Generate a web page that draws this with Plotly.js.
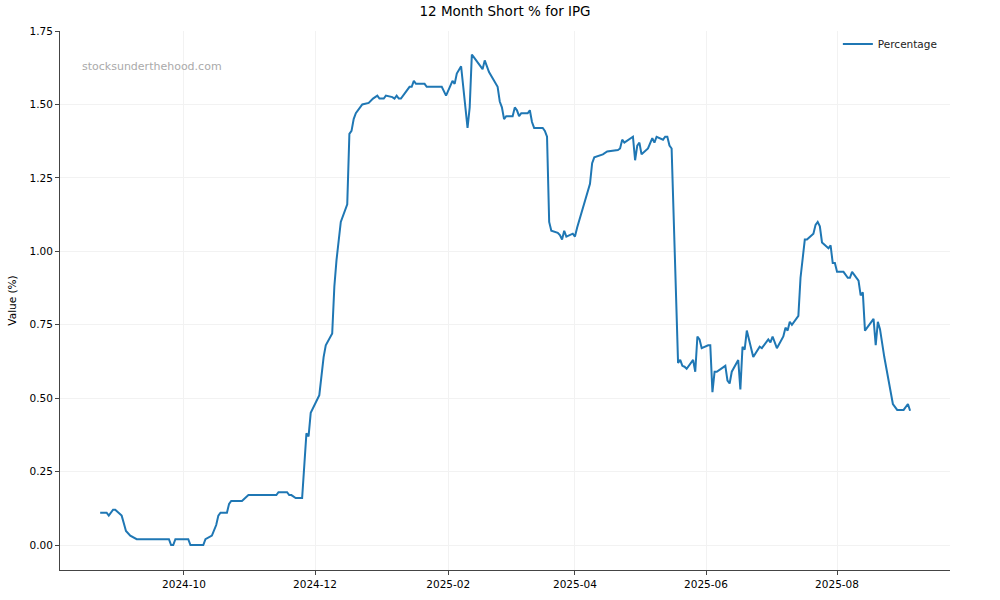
<!DOCTYPE html>
<html>
<head>
<meta charset="utf-8">
<script src="https://cdn.plot.ly/plotly-3.0.1.min.js"></script>
<style>
  html, body { margin: 0; padding: 0; background: #fff; }
  #myDiv { width: 1000px; height: 600px; }
</style>
</head>
<body>
<div id="myDiv"></div>
<script>
// short interest
const dates = [
    '2024-08-23', '2024-08-26', '2024-08-27', '2024-08-29', '2024-08-30', '2024-09-02',
    '2024-09-03', '2024-09-04', '2024-09-06', '2024-09-09', '2024-09-24', '2024-09-25',
    '2024-09-26', '2024-09-27', '2024-10-03', '2024-10-04', '2024-10-10', '2024-10-11',
    '2024-10-14', '2024-10-15', '2024-10-16', '2024-10-17', '2024-10-18', '2024-10-21',
    '2024-10-22', '2024-10-23', '2024-10-28', '2024-10-31', '2024-11-13', '2024-11-14',
    '2024-11-18', '2024-11-19', '2024-11-20', '2024-11-22', '2024-11-25', '2024-11-27',
    '2024-11-28', '2024-11-29', '2024-12-03', '2024-12-05', '2024-12-06', '2024-12-09',
    '2024-12-10', '2024-12-11', '2024-12-13', '2024-12-16', '2024-12-17', '2024-12-18',
    '2024-12-19', '2024-12-20', '2024-12-23', '2024-12-26', '2024-12-28', '2024-12-30',
    '2024-12-31', '2025-01-02', '2025-01-03', '2025-01-06', '2025-01-07', '2025-01-08',
    '2025-01-09', '2025-01-10', '2025-01-14', '2025-01-15', '2025-01-16', '2025-01-17',
    '2025-01-21', '2025-01-22', '2025-01-29', '2025-01-31', '2025-02-03', '2025-02-04',
    '2025-02-05', '2025-02-07', '2025-02-10', '2025-02-11', '2025-02-12', '2025-02-13',
    '2025-02-17', '2025-02-18', '2025-02-20', '2025-02-24', '2025-02-25', '2025-02-26',
    '2025-02-27', '2025-02-28', '2025-03-03', '2025-03-04', '2025-03-05', '2025-03-06',
    '2025-03-07', '2025-03-10', '2025-03-11', '2025-03-12', '2025-03-13', '2025-03-17',
    '2025-03-18', '2025-03-19', '2025-03-20', '2025-03-21', '2025-03-24', '2025-03-25',
    '2025-03-26', '2025-03-27', '2025-03-28', '2025-03-31', '2025-04-01', '2025-04-02',
    '2025-04-04', '2025-04-07', '2025-04-08', '2025-04-09', '2025-04-10', '2025-04-14',
    '2025-04-16', '2025-04-21', '2025-04-22', '2025-04-23', '2025-04-24', '2025-04-28',
    '2025-04-29', '2025-04-30', '2025-05-01', '2025-05-02', '2025-05-05', '2025-05-07',
    '2025-05-08', '2025-05-09', '2025-05-12', '2025-05-13', '2025-05-14', '2025-05-15',
    '2025-05-16', '2025-05-19', '2025-05-20', '2025-05-21', '2025-05-22', '2025-05-23',
    '2025-05-25', '2025-05-26', '2025-05-27', '2025-05-28', '2025-05-29', '2025-05-30',
    '2025-06-02', '2025-06-03', '2025-06-04', '2025-06-05', '2025-06-06', '2025-06-10',
    '2025-06-11', '2025-06-12', '2025-06-13', '2025-06-16', '2025-06-17', '2025-06-18',
    '2025-06-19', '2025-06-20', '2025-06-23', '2025-06-25', '2025-06-26', '2025-06-27',
    '2025-06-30', '2025-07-01', '2025-07-02', '2025-07-04', '2025-07-07', '2025-07-08',
    '2025-07-09', '2025-07-10', '2025-07-11', '2025-07-14', '2025-07-15', '2025-07-17',
    '2025-07-18', '2025-07-21', '2025-07-22', '2025-07-23', '2025-07-24', '2025-07-25',
    '2025-07-28', '2025-07-29', '2025-07-30', '2025-07-31', '2025-08-01', '2025-08-04',
    '2025-08-06', '2025-08-07', '2025-08-08', '2025-08-11', '2025-08-12', '2025-08-13',
    '2025-08-14', '2025-08-18', '2025-08-19', '2025-08-20', '2025-08-21', '2025-08-23',
    '2025-08-26', '2025-08-27', '2025-08-29', '2025-09-01', '2025-09-03', '2025-09-04'
];
const shortPct = [
    0.11, 0.11, 0.10, 0.12, 0.12, 0.10,
    0.074, 0.048, 0.032, 0.02, 0.02, 0.0,
    0.0, 0.02, 0.02, 0.0, 0.0, 0.02,
    0.032, 0.051, 0.068, 0.10, 0.11, 0.11,
    0.14, 0.15, 0.15, 0.17, 0.17, 0.18,
    0.18, 0.17, 0.17, 0.16, 0.16, 0.38,
    0.37, 0.45, 0.51, 0.64, 0.68, 0.72,
    0.88, 0.97, 1.10, 1.16, 1.40, 1.41,
    1.45, 1.47, 1.50, 1.505, 1.52, 1.53,
    1.52, 1.52, 1.53, 1.525, 1.52, 1.53,
    1.52, 1.52, 1.56, 1.56, 1.58, 1.57,
    1.57, 1.56, 1.56, 1.53, 1.58, 1.57,
    1.605, 1.63, 1.42, 1.49, 1.67, 1.66,
    1.62, 1.65, 1.61, 1.56, 1.51, 1.49,
    1.45, 1.46, 1.46, 1.49, 1.48, 1.46,
    1.47, 1.47, 1.48, 1.44, 1.42, 1.42,
    1.41, 1.39, 1.10, 1.07, 1.063, 1.055,
    1.04, 1.07, 1.05, 1.06, 1.05, 1.08,
    1.13, 1.20, 1.23, 1.30, 1.32, 1.33,
    1.34, 1.345, 1.35, 1.38, 1.37, 1.39,
    1.31, 1.36, 1.37, 1.33, 1.35, 1.385,
    1.37, 1.39, 1.38, 1.39, 1.39, 1.36,
    1.35, 0.62, 0.63, 0.61, 0.607, 0.60,
    0.62, 0.63, 0.59, 0.71, 0.70, 0.67,
    0.68, 0.68, 0.52, 0.59, 0.59, 0.61,
    0.56, 0.55, 0.59, 0.63, 0.53, 0.675,
    0.665, 0.73, 0.64, 0.665, 0.675, 0.67,
    0.70, 0.69, 0.71, 0.67, 0.71, 0.74,
    0.73, 0.76, 0.75, 0.78, 0.91, 1.04,
    1.04, 1.06, 1.09, 1.10, 1.085, 1.03,
    1.01, 1.02, 0.96, 0.96, 0.93, 0.93,
    0.91, 0.91, 0.93, 0.90, 0.85, 0.86,
    0.73, 0.77, 0.68, 0.76, 0.735, 0.64,
    0.51, 0.48, 0.46, 0.46, 0.48, 0.457
];
const yTicks = [0, 0.25, 0.5, 0.75, 1.0, 1.25, 1.5, 1.75];

var data = [
    {
        x: dates,
        y: shortPct,
        type: 'scatter',
        mode: 'lines',
        name: 'Percentage',
        line: { color: '#1f77b4', width: 2 },
        showlegend: true,
        hoverinfo: 'none'
    }
];

var layout = {
    width: 1000,
    height: 600,
    font: { family: 'DejaVu Sans', size: 10.5, color: '#000' },
    paper_bgcolor: '#fff',
    plot_bgcolor: '#fff',
    margin: { l: 60, r: 50, t: 31, b: 30 },
    title: {
        text: '12 Month Short % for IPG',
        font: { size: 13.5, color: '#000' },
        x: 0.505, xanchor: 'center',
        y: 0.981, yanchor: 'middle'
    },
    xaxis: {
        type: 'date',
        range: ['2024-08-04 07:00', '2025-09-22 14:00'],
        tick0: '2024-10-01',
        dtick: 'M2',
        tickformat: '%Y-%m',
        ticks: 'outside',
        ticklen: 4,
        tickcolor: '#444',
        showline: true,
        linecolor: '#444',
        linewidth: 1,
        showgrid: true,
        gridcolor: '#f2f2f2',
        zeroline: false
    },
    yaxis: {
        title: { text: 'Value (%)', font: { size: 10.5 }, standoff: 10 },
        range: [-0.0851, 1.75],
        tickvals: yTicks,
        tickformat: '.2f',
        ticks: 'outside',
        ticklen: 4,
        tickcolor: '#444',
        showline: true,
        linecolor: '#444',
        linewidth: 1,
        showgrid: true,
        gridcolor: '#f2f2f2',
        zeroline: false
    },
    legend: {
        x: 0.874, xanchor: 'left',
        y: 1.003, yanchor: 'top',
        bgcolor: 'rgba(255,255,255,0)',
        font: { size: 10.5, color: '#222' }
    },
    annotations: [
        {
            text: 'stocksunderthehood.com',
            xref: 'paper', yref: 'paper',
            x: 0.0225, y: 0.935,
            xanchor: 'left', yanchor: 'middle',
            showarrow: false,
            font: { size: 11, color: '#aaaaaa' }
        }
    ]
};

Plotly.newPlot('myDiv', data, layout, { staticPlot: true });
</script>
</body>
</html>
